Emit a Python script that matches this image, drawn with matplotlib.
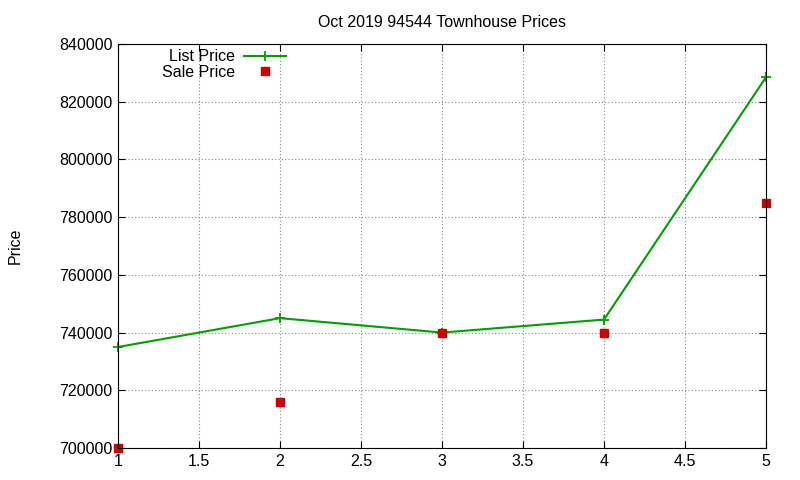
import matplotlib
matplotlib.use("Agg")
import matplotlib.pyplot as plt

x = [1, 2, 3, 4, 5]
list_price = [735000, 745000, 740000, 744500, 828500]
sale_price = [700000, 716000, 740000, 740000, 785000]
xticks = [1, 1.5, 2, 2.5, 3, 3.5, 4, 4.5, 5]
yticks = list(range(700000, 840001, 20000))

plt.rcParams['font.family'] = ['Liberation Sans', 'DejaVu Sans']
plt.rcParams['font.size'] = 11.5
fig = plt.figure(figsize=(8, 4.8), dpi=100)
ax = fig.add_axes([118/800, 1-448/480, (766-118)/800, (448-44)/480])
ax.plot(x, list_price, color='#009e00', lw=1.5, marker='+', ms=7, mew=1.3, label='List Price', clip_on=False)
ax.plot(x, sale_price, ls='none', color='#cc0000', marker='s', ms=5.5, label='Sale Price', clip_on=False)
ax.set_xlim(1, 5)
ax.set_ylim(700000, 840000)
ax.set_xticks(xticks)
ax.set_xticklabels([f"{t:g}" for t in xticks])
ax.set_yticks(yticks)
ax.set_yticklabels([str(t) for t in yticks])
ax.tick_params(direction='in', top=True, right=True, length=5, pad=4)
ax.grid(True, ls=(0, (1, 2)), color='#888888', lw=0.8)
ax.set_ylabel('Price', labelpad=26)
ax.set_title('Oct 2019 94544 Townhouse Prices', fontsize=11.5, pad=12)
ax.legend(loc='upper left', bbox_to_anchor=(0.05, 1.015), frameon=False, markerfirst=False,
          handlelength=2.6, borderaxespad=0.3, labelspacing=0.05, handletextpad=0.6)
fig.savefig('out.png', dpi=100)
